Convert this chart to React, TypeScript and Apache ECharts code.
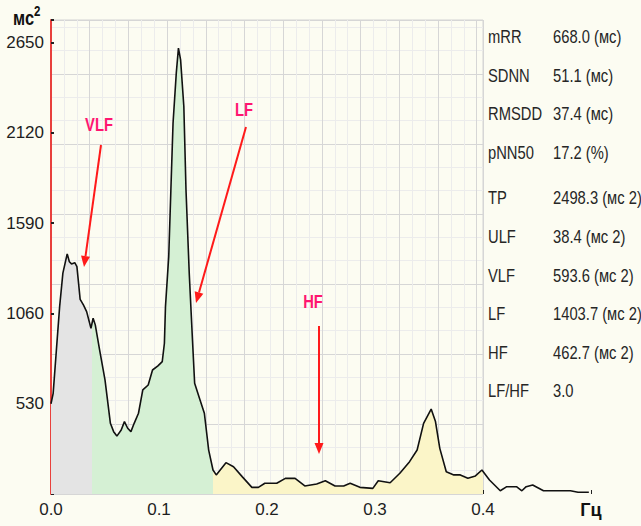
import React, { useEffect, useRef } from 'react';
import * as echarts from 'echarts';

// Spectrum (frequency, Hz) and power (мс²)
const freq = [
  0.000, 0.002, 0.005, 0.008, 0.011, 0.015, 0.017, 0.019, 0.022, 0.024,
  0.027, 0.030, 0.033, 0.037, 0.039, 0.041, 0.045, 0.050, 0.055, 0.058,
  0.061, 0.065, 0.068, 0.071, 0.074, 0.077, 0.081, 0.085, 0.090, 0.094,
  0.099, 0.103, 0.105, 0.106, 0.109, 0.111, 0.113, 0.116, 0.118, 0.120,
  0.123, 0.125, 0.128, 0.131, 0.133, 0.138, 0.142, 0.146, 0.150, 0.153,
  0.162, 0.169, 0.177, 0.186, 0.192, 0.198, 0.209, 0.217, 0.226, 0.235,
  0.246, 0.254, 0.263, 0.271, 0.277, 0.286, 0.298, 0.303, 0.314, 0.323,
  0.332, 0.339, 0.345, 0.352, 0.356, 0.360, 0.366, 0.373, 0.379, 0.386,
  0.393, 0.399, 0.406, 0.416, 0.422, 0.431, 0.436, 0.440, 0.446, 0.456,
  0.481, 0.488, 0.498,
];
const power = [
  530, 591, 846, 1100, 1297, 1410, 1364, 1351, 1358, 1335,
  1143, 1110, 1071, 973, 1032, 993, 846, 670, 415, 366,
  340, 376, 425, 386, 366, 415, 474, 611, 640, 728,
  752, 777, 885, 1100, 1394, 1785, 2177, 2471, 2618, 2549,
  2275, 1785, 1296, 904, 650, 552, 474, 258, 141, 112,
  184, 160, 102, 39, 39, 63, 63, 92, 92, 47,
  59, 78, 47, 47, 63, 39, 33, 78, 66, 122,
  190, 258, 415, 499, 425, 268, 131, 112, 112, 92,
  106, 141, 82, 19, 43, 43, 19, 43, 53, 19,
  19, 10, 10,
];

// Frequency bands (ULF+VLF / LF / HF)
const bandEdges = [0, 0.038, 0.15, 0.4];
const bandColors = ['#e4e4e4', '#d5f0d4', '#fbf5c8'];

const yInterval = 530;
const yMax = 2783;
const xMax = 0.5;

const statNames = ['mRR', 'SDNN', 'RMSDD', 'pNN50', 'TP', 'ULF', 'VLF', 'LF', 'HF', 'LF/HF'];
const statValues = [
  '668.0 (мс)', '51.1 (мс)', '37.4 (мс)', '17.2 (%)',
  '2498.3 (мс 2)', '38.4 (мс 2)', '593.6 (мс 2)', '1403.7 (мс 2)', '462.7 (мс 2)', '3.0',
];

const bandLabels = ['VLF', 'LF', 'HF'];

// layout (pixels)
const statRowY = [36, 75, 113, 152, 197, 236, 275, 313, 352, 390];
const statColX = [488, 553];
const arrowLayout = [
  { label: [99, 124], from: [101, 145], to: [84, 267] },
  { label: [244, 109], from: [246, 127], to: [196, 303] },
  { label: [313, 301], from: [319, 326], to: [319, 454] },
];

const SANS = '"Liberation Sans", Arial, sans-serif';
const NARROW_SCALE = 0.82;
const BG = '#fcfcf2';

function arrow(x1: number, y1: number, x2: number, y2: number, color: string) {
  const ang = Math.atan2(y2 - y1, x2 - x1);
  const hl = 11, hw = 4.5;
  const bx = x2 - hl * Math.cos(ang);
  const by = y2 - hl * Math.sin(ang);
  const px = -Math.sin(ang) * hw;
  const py = Math.cos(ang) * hw;
  return [
    { type: 'line', shape: { x1, y1, x2: bx, y2: by }, style: { stroke: color, lineWidth: 2 }, z: 20 },
    {
      type: 'polygon',
      shape: { points: [[x2, y2], [bx + px, by + py], [bx - px, by - py]] },
      style: { fill: color },
      z: 20,
    },
  ];
}

export default function App() {
  const ref = useRef<HTMLDivElement>(null);

  useEffect(() => {
    document.body.style.background = BG;
    const chart = echarts.init(ref.current!, undefined, { renderer: 'svg' });

    const graphics: any[] = [];
    statNames.forEach((n, i) => {
      graphics.push({
        type: 'text', x: statColX[0], y: statRowY[i], z: 20, scaleX: NARROW_SCALE,
        style: { text: n, fontSize: 18, fontFamily: SANS, fill: '#262626', verticalAlign: 'middle' },
      });
      graphics.push({
        type: 'text', x: statColX[1], y: statRowY[i], z: 20, scaleX: NARROW_SCALE,
        style: { text: statValues[i], fontSize: 18, fontFamily: SANS, fill: '#262626', verticalAlign: 'middle' },
      });
    });
    arrowLayout.forEach((a, i) => {
      graphics.push(...arrow(a.from[0], a.from[1], a.to[0], a.to[1], '#ff1a1a'));
      graphics.push({
        type: 'text', x: a.label[0], y: a.label[1], z: 20, scaleX: NARROW_SCALE,
        style: {
          text: bandLabels[i], fontSize: 18, fontWeight: 'bold', fontFamily: SANS,
          fill: '#ff1670', align: 'center', verticalAlign: 'middle',
        },
      });
    });
    graphics.push({
      type: 'text', x: 13, y: 4, z: 20, scaleX: NARROW_SCALE,
      style: {
        text: '{a|мс}{b|2}',
        rich: {
          a: { fontSize: 20, fontWeight: 'bold', fontFamily: SANS, fill: '#111', verticalAlign: 'bottom', lineHeight: 24 },
          b: { fontSize: 14, fontWeight: 'bold', fontFamily: SANS, fill: '#111', verticalAlign: 'top', lineHeight: 24 },
        },
      },
    });

    const pieces = bandColors.map((c, i) => ({
      gte: bandEdges[i],
      lt: bandEdges[i + 1] + (i === bandColors.length - 1 ? 1e-9 : 0),
      color: c,
    }));

    chart.setOption({
      animation: false,
      backgroundColor: BG,
      grid: [
        { left: 51, top: 20, width: 540, height: 474, containLabel: false, z: 2 },
        {
          left: 51, top: 20, width: 432, height: 474, show: true,
          backgroundColor: BG, borderColor: '#d4d4d4', borderWidth: 1, z: 0,
        },
      ],
      xAxis: [
        {
          type: 'value', gridIndex: 0, min: 0, max: xMax, interval: 0.1,
          axisLine: { show: false },
          axisTick: { show: true, inside: true, length: 4, lineStyle: { color: '#222', width: 1 } },
          splitLine: { show: false },
          axisLabel: {
            margin: 7, fontSize: 17, fontFamily: SANS, color: '#1e1e1e',
            formatter: (v: number) => (Math.abs(v - xMax) < 1e-9 ? '{u|Гц}' : v.toFixed(1)),
            rich: { u: { fontSize: 18, fontWeight: 'bold', fontFamily: SANS, color: '#111' } },
          },
        },
        {
          type: 'value', gridIndex: 1, min: 0, max: 432, interval: 38.7,
          axisLine: { show: false }, axisTick: { show: false }, axisLabel: { show: false },
          splitLine: { show: true, lineStyle: { color: '#d6d6d6', width: 1 } },
          minorTick: { show: false, splitNumber: 3 },
          minorSplitLine: { show: true, lineStyle: { color: '#ececec', width: 1 } },
        },
      ],
      yAxis: [
        {
          type: 'value', gridIndex: 0, min: 0, max: yMax, interval: yInterval,
          axisLine: { show: true, lineStyle: { color: '#e8403c', width: 2 } },
          axisTick: { show: true, inside: true, length: 3, lineStyle: { color: '#222', width: 2 } },
          splitLine: { show: false },
          axisLabel: {
            margin: 7, fontSize: 17, fontFamily: SANS, color: '#1e1e1e',
            formatter: (v: number) => (v > 0 && v % yInterval === 0 ? String(v) : ''),
          },
        },
        {
          type: 'value', gridIndex: 1, min: 0, max: 474, interval: 70,
          axisLine: { show: false }, axisTick: { show: false }, axisLabel: { show: false },
          splitLine: { show: true, lineStyle: { color: '#d6d6d6', width: 1 } },
          minorTick: { show: false, splitNumber: 3 },
          minorSplitLine: { show: true, lineStyle: { color: '#ececec', width: 1 } },
        },
      ],
      visualMap: {
        type: 'piecewise', show: false, dimension: 0, seriesIndex: 0,
        pieces, outOfRange: { color: 'rgba(0,0,0,0)' },
      },
      series: [
        {
          type: 'line', xAxisIndex: 0, yAxisIndex: 0,
          data: freq.map((f, i) => [f, power[i]]),
          symbol: 'none', smooth: false,
          lineStyle: { color: '#111', width: 1.6 },
          areaStyle: { opacity: 1 },
          z: 3,
        },
      ],
      graphic: graphics,
    });

    return () => chart.dispose();
  }, []);

  return (
    <div
      ref={ref}
      style={{ position: 'absolute', left: 0, top: 0, width: 641, height: 526, background: BG }}
    />
  );
}
